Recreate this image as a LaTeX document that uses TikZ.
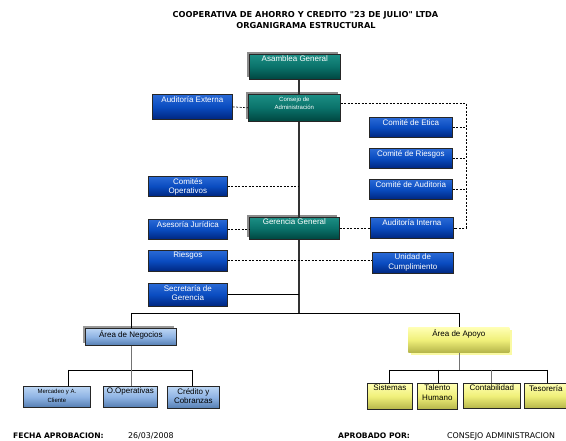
\documentclass[tikz,border=0pt]{standalone}
\usepackage{fontspec}
\setmainfont{Liberation Sans}
\newfontfamily\tahoma{DejaVu Sans}
\usetikzlibrary{shadows}
\definecolor{bluetop}{HTML}{2A6AD6}
\definecolor{bluemid}{HTML}{0A4CC0}
\definecolor{bluebot}{HTML}{00267F}
\definecolor{tealtop}{HTML}{1C8E84}
\definecolor{tealmid}{HTML}{0A726A}
\definecolor{tealbot}{HTML}{00453F}
\definecolor{lbtop}{HTML}{BCD6F4}
\definecolor{lbmid}{HTML}{8FB4E4}
\definecolor{lbbot}{HTML}{557EB2}
\definecolor{yeltop}{HTML}{FFFFB4}
\definecolor{yelmid}{HTML}{F0F07A}
\definecolor{yelbot}{HTML}{B5B54A}
\newcommand\obox[8]{%
  \node[#1, minimum width=#5pt, minimum height=#6pt] (#2) at (#3,#4) {};
  \node[#7, anchor=north] (#2t) at ([yshift=-1pt]#2.north) {#8};}
\begin{document}
\begin{tikzpicture}[x=1pt,y=-1pt,
  base/.style={draw=black!85, line width=0.7pt, anchor=north west, inner sep=0pt},
  bluebox/.style={base, top color=bluetop, bottom color=bluebot, middle color=bluemid,
    general shadow={fill=black!35, shadow xshift=1pt, shadow yshift=-1pt}},
  tealbox/.style={base, top color=tealtop, bottom color=tealbot, middle color=tealmid,
    general shadow={fill=black!45, shadow xshift=-2.5pt, shadow yshift=2.5pt}},
  lbbox/.style={base, top color=lbtop, bottom color=lbbot, middle color=lbmid,
    general shadow={fill=black!30, shadow xshift=1pt, shadow yshift=-1pt}},
  negbox/.style={base, top color=lbtop, bottom color=lbbot, middle color=lbmid,
    general shadow={fill=black!40, shadow xshift=-2.5pt, shadow yshift=2.5pt}},
  yelbox/.style={base, top color=yeltop, bottom color=yelbot, middle color=yelmid,
    general shadow={fill=black!30, shadow xshift=1pt, shadow yshift=-1pt}},
  apbox/.style={base, draw=none, top color=yeltop, bottom color=yelbot, middle color=yelmid,
    general shadow={fill=yeltop!70!yelmid, shadow xshift=3pt, shadow yshift=-3pt}},
  wtext/.style={text=white, font=\fontsize{8}{9.5}\selectfont, align=center, inner sep=1pt},
  wsmall/.style={text=white, font=\fontsize{6}{8.5}\selectfont, align=center, inner sep=1.5pt},
  ktext/.style={text=black, font=\fontsize{8}{9.5}\selectfont, align=center, inner sep=1pt},
  ksmall/.style={text=black, font=\fontsize{6}{8.5}\selectfont, align=center, inner sep=2pt},
  mainline/.style={draw=black!80, line width=1.6pt},
  thinline/.style={draw=black, line width=0.8pt},
  greyline/.style={draw=black!55, line width=0.9pt},
  dashline/.style={draw=black, line width=0.7pt, dash pattern=on 2pt off 1.5pt},
  ttl/.style={font=\tahoma\bfseries\fontsize{8.2}{9}\selectfont, inner sep=0pt},
  foot/.style={font=\tahoma\fontsize{7.9}{9}\selectfont, inner sep=0pt, anchor=west},
  footb/.style={font=\tahoma\bfseries\fontsize{7.6}{9}\selectfont, inner sep=0pt, anchor=west}
]
\useasboundingbox[fill=white] (0,0) rectangle (566,441);

% title
\node[ttl] (t1) at (305.5,15.7) {COOPERATIVA DE AHORRO Y CREDITO "23 DE JULIO" LTDA};
\node[ttl] (t2) at (306,25.7) {ORGANIGRAMA ESTRUCTURAL};

% coordinates
\coordinate (rvt) at (466,103);
\coordinate (rvb) at (466,228);
\coordinate (hub) at (299,313);
\coordinate (hl) at (131,313);
\coordinate (hr) at (459,313);
\coordinate (nb) at (131,370);
\coordinate (nl) at (68,370);
\coordinate (nr) at (192,370);
\coordinate (ab) at (459,370);
\coordinate (al) at (389,370);
\coordinate (am) at (438,370);
\coordinate (an) at (491,370);
\coordinate (ar) at (547,370);

% boxes
\obox{tealbox}{asam}{249}{54}{91}{25}{wtext}{Asamblea General}
\obox{tealbox}{cons}{248}{94}{92}{27}{wsmall}{Consejo de\\Administración}
\obox{bluebox}{audext}{152}{94}{80}{25}{wtext}{Auditoría Externa}
\obox{bluebox}{etica}{369}{117}{83}{20}{wtext}{Comité de Etica}
\obox{bluebox}{criesgos}{369}{148}{83}{20}{wtext}{Comité de Riesgos}
\obox{bluebox}{caud}{369}{179}{83}{20}{wtext}{Comité de Auditoria}
\obox{bluebox}{comop}{148}{176}{79}{20}{wtext}{Comités\\Operativos}
\obox{tealbox}{ger}{249}{217}{90}{22}{wtext}{Gerencia General}
\obox{bluebox}{asej}{148}{219}{79}{20}{wtext}{Asesoría Jurídica}
\obox{bluebox}{audint}{370}{217}{83}{21}{wtext}{Auditoría Interna}
\obox{bluebox}{riesgos}{148}{250}{79}{21}{wtext}{Riesgos}
\obox{bluebox}{unidad}{372}{252}{81}{21}{wtext}{Unidad de\\Cumplimiento}
\obox{bluebox}{secr}{148}{283}{79}{23}{wtext}{Secretaría de\\Gerencia}
\obox{negbox}{neg}{85}{328}{91}{17}{ktext}{Área de Negocios}
\obox{apbox}{apoyo}{408}{327}{101}{25}{ktext}{Área de Apoyo}
\obox{lbbox}{merc}{23}{386}{67}{21}{ksmall}{Mercadeo y A.\\Cliente}
\obox{lbbox}{oop}{103}{386}{54}{21}{ktext}{O.Operativas}
\obox{lbbox}{cred}{167}{386}{52}{22}{ktext}{Crédito y\\Cobranzas}
\obox{yelbox}{sist}{367}{383}{45}{26}{ktext}{Sistemas}
\obox{yelbox}{tal}{417}{383}{40}{26}{ktext}{Talento\\Humano}
\obox{yelbox}{cont}{463}{383}{57}{25}{ktext}{Contabilidad}
\obox{yelbox}{tes}{524}{383}{43}{25}{ktext}{Tesorería}

% main solid line
\draw[mainline] (asam.south -| hub) -- (cons.north -| hub);
\draw[mainline] (cons.south -| hub) -- (ger.north -| hub);
\draw[mainline] (ger.south -| hub) -- (hub);
\draw[thinline] (hl) -- (hr);
\draw[thinline] (hl) -- (neg.north -| hl);
\draw[thinline] (hr) -- (apoyo.north -| hr);
\draw[thinline] (secr.east) -- (secr.east -| hub);

% dashed
\draw[dashline] (audext.east) -- (cons.west);
\draw[dashline] (cons.east |- rvt) -- (rvt) -- (rvb) -- (audint.east |- rvb);
\draw[dashline] (etica.east) -- (etica.east -| rvt);
\draw[dashline] (criesgos.east) -- (criesgos.east -| rvt);
\draw[dashline] (caud.east) -- (caud.east -| rvt);
\draw[dashline] (comop.east) -- (comop.east -| hub);
\draw[dashline] (asej.east) -- (asej.east -| ger.west);
\draw[dashline] (ger.east) -- (ger.east -| audint.west);
\draw[dashline] (riesgos.east) -- (riesgos.east -| unidad.west);

% children of Negocios
\draw[greyline] (neg.south -| nb) -- (nb);
\draw[thinline] (nl) -- (nr);
\draw[thinline] (nl) -- (merc.north -| nl);
\draw[greyline] (nb) -- (oop.north -| nb);
\draw[thinline] (nr) -- (cred.north -| nr);

% children of Apoyo
\draw[greyline] (apoyo.south -| ab) -- (ab);
\draw[thinline] (al) -- (ar);
\draw[thinline] (al) -- (sist.north -| al);
\draw[thinline] (am) -- (tal.north -| am);
\draw[greyline] (an) -- (cont.north -| an);
\draw[thinline] (ar) -- (tes.north -| ar);

% footer
\node[footb] (f1) at (13,436) {FECHA APROBACION:};
\node[foot] (f2) at (128,436) {26/03/2008};
\node[footb] (f3) at (338,436) {APROBADO POR:};
\node[foot] (f4) at (447,436) {CONSEJO ADMINISTRACION};
\end{tikzpicture}
\end{document}
